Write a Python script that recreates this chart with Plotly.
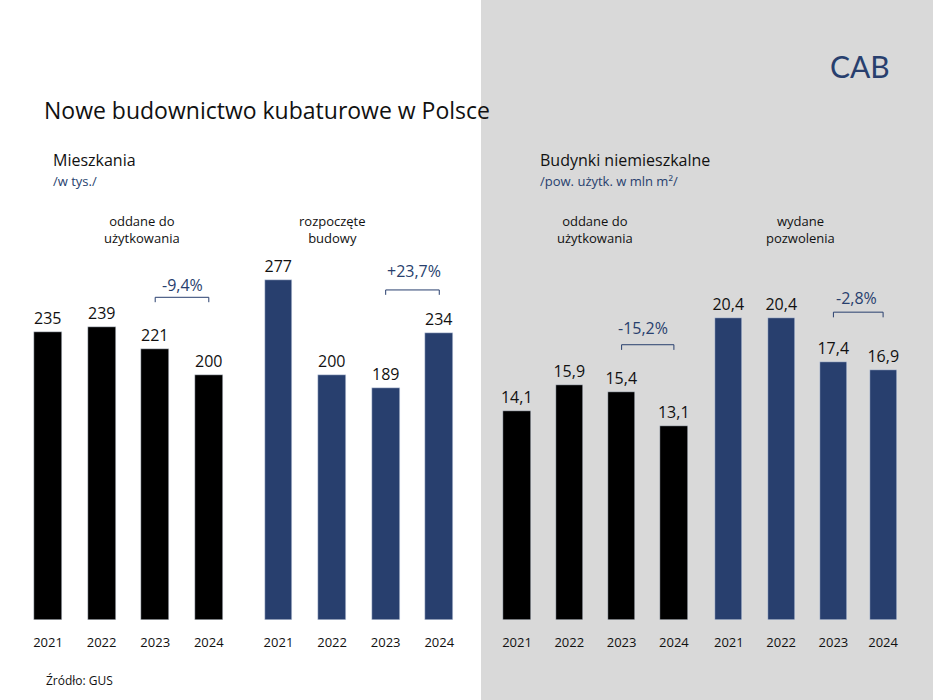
import plotly.graph_objects as go

W, H = 933, 700

lata = ["2021", "2022", "2023", "2024"]
mieszkania_oddane = [235, 239, 221, 200]
mieszkania_rozpoczete = [277, 200, 189, 234]
niemieszk_oddane = [14.1, 15.9, 15.4, 13.1]
niemieszk_pozwolenia = [20.4, 20.4, 17.4, 16.9]

BLACK = "#000000"
BLUE = "#283f6e"
FONT = "Open Sans, Lato, sans-serif"

def fmt(v):
    return f"{v:.1f}".replace(".", ",")

fig = go.Figure()

xl1 = [0, 1, 2, 3]
xl2 = [4.3, 5.3, 6.3, 7.3]
xr1 = [0, 1, 2, 3]
xr2 = [4.05, 5.05, 6.05, 7.0]

def bars(x, y, color, xa, ya, txt):
    fig.add_trace(go.Bar(x=x, y=y, marker_color=color, width=0.52, xaxis=xa, yaxis=ya,
                         text=txt, textposition="outside", cliponaxis=False, constraintext="none",
                         textfont=dict(size=16, color="#111111", family=FONT), showlegend=False))

bars(xl1, mieszkania_oddane, BLACK, "x", "y", [str(v) for v in mieszkania_oddane])
bars(xl2, mieszkania_rozpoczete, BLUE, "x", "y", [str(v) for v in mieszkania_rozpoczete])
bars(xr1, niemieszk_oddane, BLACK, "x2", "y2", [fmt(v) for v in niemieszk_oddane])
bars(xr2, niemieszk_pozwolenia, BLUE, "x2", "y2", [fmt(v) for v in niemieszk_pozwolenia])

split = 481 / W
ydom = [(H - 620) / H, 1]
tickfont = dict(size=13, color="#111111", family=FONT)
xcommon = dict(tickfont=tickfont, showgrid=False, zeroline=False, showline=False,
               ticks="outside", ticklen=10, tickcolor="rgba(0,0,0,0)")
fig.update_layout(
    width=W, height=H, margin=dict(l=0, r=0, t=0, b=0),
    paper_bgcolor="white", plot_bgcolor="rgba(0,0,0,0)", bargap=0,
    xaxis=dict(domain=[0, split], range=[-48 / 53.6, (481 - 48) / 53.6],
               tickvals=xl1 + xl2, ticktext=lata * 2, **xcommon),
    yaxis=dict(domain=ydom, range=[0, 620 / 1.227], visible=False),
    xaxis2=dict(domain=[split, 1], range=[-36 / 52.3, (452 - 36) / 52.3],
                tickvals=xr1 + xr2, ticktext=lata * 2, **xcommon),
    yaxis2=dict(domain=ydom, range=[0, 620 / 14.8], visible=False, anchor="x2"),
)

shapes = [dict(type="rect", xref="paper", yref="paper", x0=split, x1=1, y0=0, y1=1,
               fillcolor="#d9d9d9", line_width=0, layer="below")]

def bracket(xa, ya, x0, x1, y, dy):
    shapes.append(dict(type="path", xref=xa, yref=ya,
                       path=f"M {x0},{y - dy} L {x0},{y} L {x1},{y} L {x1},{y - dy}",
                       line=dict(color=BLUE, width=1)))

bracket("x", "y", 2, 3, 263, 4)
bracket("x", "y", 6.3, 7.3, 269, 4)
bracket("x2", "y2", 2, 3, 18.6, 0.35)
bracket("x2", "y2", 6.05, 7.0, 20.8, 0.35)
fig.update_layout(shapes=shapes)

anns = []
def txt(x, y, s, size=14, color="#111111", xanchor="left", family=FONT):
    anns.append(dict(x=x, y=y, xref="paper", yref="paper", text=s, showarrow=False,
                     xanchor=xanchor, yanchor="middle", align="center",
                     font=dict(size=size, color=color, family=family)))

px = lambda v: v / W
py = lambda v: 1 - v / H
txt(px(42), py(110), "Nowe budownictwo kubaturowe w Polsce", size=23)
txt(px(51), py(160), "Mieszkania", size=16)
txt(px(51), py(181), "/w tys./", size=13, color=BLUE)
txt(px(538), py(160), "Budynki niemieszkalne", size=16)
txt(px(538), py(181), "/pow. użytk. w mln m²/", size=13, color=BLUE)
txt(px(142), py(230), "oddane do<br>użytkowania", size=13, xanchor="center")
txt(px(332), py(230), "rozpoczęte<br>budowy", size=13, xanchor="center")
txt(px(595), py(230), "oddane do<br>użytkowania", size=13, xanchor="center")
txt(px(800), py(230), "wydane<br>pozwolenia", size=13, xanchor="center")
txt(px(182), py(285), "-9,4%", size=16, color=BLUE, xanchor="center")
txt(px(414), py(271), "+23,7%", size=16, color=BLUE, xanchor="center")
txt(px(643), py(328), "-15,2%", size=16, color=BLUE, xanchor="center")
txt(px(856), py(298), "-2,8%", size=16, color=BLUE, xanchor="center")
txt(px(44), py(680), "Źródło: GUS", size=12)
txt(px(860), py(66), "CAB", size=30, color=BLUE, xanchor="center", family="DejaVu Sans ExtraLight, Lato, sans-serif")
fig.update_layout(annotations=anns)

fig.write_html("out.html", config={"displayModeBar": False},
               post_script="document.body.style.margin='0';document.body.style.overflow='hidden';")
